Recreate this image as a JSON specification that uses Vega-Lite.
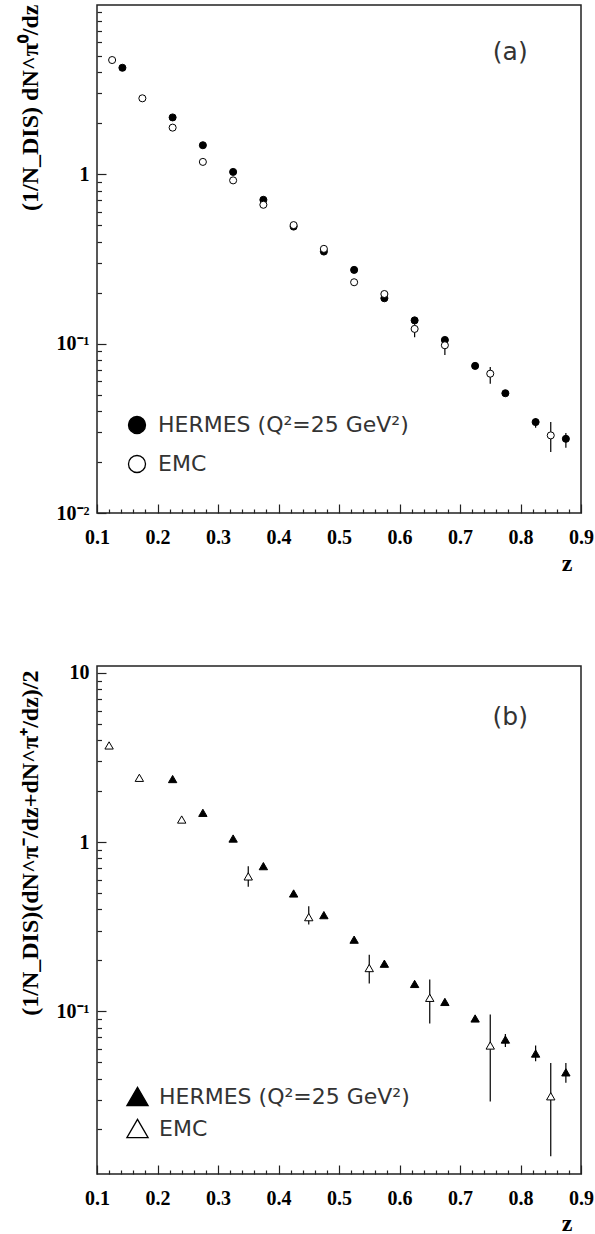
{
  "$schema": "https://vega.github.io/schema/vega-lite/v6.json",
  "background": "white",
  "padding": {"left": 17, "top": 3, "right": 5, "bottom": 5},
  "spacing": 153,
  "bounds": "flush",
  "config": {
    "view": {"stroke": "#222", "strokeWidth": 1.5},
    "axis": {
      "grid": false, "domain": false, "labelFlush": false, "labelOverlap": false,
      "labelFont": "Liberation Serif", "labelFontWeight": "bold", "labelFontSize": 20, "labelColor": "black",
      "titleFont": "Liberation Serif", "titleFontWeight": "bold", "titleColor": "black",
      "tickColor": "#222", "tickWidth": 1.2
    }
  },
  "datasets": {
    "a": [
      {"z": 0.142, "v": 4.24, "series": "HERMES (Q²=25 GeV²)"},
      {"z": 0.225, "v": 2.16, "series": "HERMES (Q²=25 GeV²)"},
      {"z": 0.275, "v": 1.48, "series": "HERMES (Q²=25 GeV²)"},
      {"z": 0.325, "v": 1.03, "series": "HERMES (Q²=25 GeV²)"},
      {"z": 0.375, "v": 0.705, "series": "HERMES (Q²=25 GeV²)"},
      {"z": 0.425, "v": 0.49, "series": "HERMES (Q²=25 GeV²)"},
      {"z": 0.475, "v": 0.349, "series": "HERMES (Q²=25 GeV²)"},
      {"z": 0.525, "v": 0.272, "series": "HERMES (Q²=25 GeV²)"},
      {"z": 0.575, "v": 0.185, "series": "HERMES (Q²=25 GeV²)"},
      {"z": 0.625, "v": 0.137, "series": "HERMES (Q²=25 GeV²)"},
      {"z": 0.675, "v": 0.105, "series": "HERMES (Q²=25 GeV²)"},
      {"z": 0.725, "v": 0.0738, "series": "HERMES (Q²=25 GeV²)"},
      {"z": 0.775, "v": 0.0509, "series": "HERMES (Q²=25 GeV²)"},
      {"z": 0.825, "v": 0.0344, "lo": 0.0318, "hi": 0.0362, "series": "HERMES (Q²=25 GeV²)"},
      {"z": 0.875, "v": 0.0274, "lo": 0.0243, "hi": 0.0297, "series": "HERMES (Q²=25 GeV²)"},
      {"z": 0.125, "v": 4.71, "series": "EMC"},
      {"z": 0.175, "v": 2.8, "series": "EMC"},
      {"z": 0.225, "v": 1.88, "series": "EMC"},
      {"z": 0.275, "v": 1.18, "series": "EMC"},
      {"z": 0.325, "v": 0.918, "series": "EMC"},
      {"z": 0.375, "v": 0.659, "series": "EMC"},
      {"z": 0.425, "v": 0.5, "series": "EMC"},
      {"z": 0.475, "v": 0.362, "series": "EMC"},
      {"z": 0.525, "v": 0.23, "series": "EMC"},
      {"z": 0.575, "v": 0.196, "series": "EMC"},
      {"z": 0.625, "v": 0.122, "lo": 0.109, "hi": 0.13, "series": "EMC"},
      {"z": 0.675, "v": 0.0977, "lo": 0.0857, "hi": 0.105, "series": "EMC"},
      {"z": 0.75, "v": 0.0664, "lo": 0.058, "hi": 0.0728, "series": "EMC"},
      {"z": 0.85, "v": 0.0287, "lo": 0.0229, "hi": 0.0344, "series": "EMC"}
    ],
    "b": [
      {"z": 0.225, "v": 2.36, "series": "HERMES (Q²=25 GeV²)"},
      {"z": 0.275, "v": 1.49, "series": "HERMES (Q²=25 GeV²)"},
      {"z": 0.325, "v": 1.05, "series": "HERMES (Q²=25 GeV²)"},
      {"z": 0.375, "v": 0.721, "series": "HERMES (Q²=25 GeV²)"},
      {"z": 0.425, "v": 0.497, "series": "HERMES (Q²=25 GeV²)"},
      {"z": 0.475, "v": 0.37, "series": "HERMES (Q²=25 GeV²)"},
      {"z": 0.525, "v": 0.265, "series": "HERMES (Q²=25 GeV²)"},
      {"z": 0.575, "v": 0.191, "series": "HERMES (Q²=25 GeV²)"},
      {"z": 0.625, "v": 0.145, "series": "HERMES (Q²=25 GeV²)"},
      {"z": 0.675, "v": 0.1135, "series": "HERMES (Q²=25 GeV²)"},
      {"z": 0.725, "v": 0.0906, "series": "HERMES (Q²=25 GeV²)"},
      {"z": 0.775, "v": 0.068, "lo": 0.0615, "hi": 0.0734, "series": "HERMES (Q²=25 GeV²)"},
      {"z": 0.825, "v": 0.0562, "lo": 0.0506, "hi": 0.0627, "series": "HERMES (Q²=25 GeV²)"},
      {"z": 0.875, "v": 0.0435, "lo": 0.0377, "hi": 0.0494, "series": "HERMES (Q²=25 GeV²)"},
      {"z": 0.12, "v": 3.73, "series": "EMC"},
      {"z": 0.17, "v": 2.4, "series": "EMC"},
      {"z": 0.24, "v": 1.36, "series": "EMC"},
      {"z": 0.35, "v": 0.627, "lo": 0.544, "hi": 0.721, "series": "EMC"},
      {"z": 0.45, "v": 0.36, "lo": 0.326, "hi": 0.418, "series": "EMC"},
      {"z": 0.55, "v": 0.18, "lo": 0.146, "hi": 0.216, "series": "EMC"},
      {"z": 0.65, "v": 0.12, "lo": 0.0846, "hi": 0.154, "series": "EMC"},
      {"z": 0.75, "v": 0.0627, "lo": 0.0293, "hi": 0.0955, "series": "EMC"},
      {"z": 0.85, "v": 0.0314, "lo": 0.0139, "hi": 0.0494, "series": "EMC"}
    ]
  },
  "vconcat": [
    {
      "width": 484,
      "height": 508,
      "resolve": {"axis": {"x": "independent", "y": "independent"}},
      "layer": [
        {
          "data": {"name": "a"},
          "transform": [{"filter": "isValid(datum.lo)"}],
          "mark": {"type": "rule", "color": "black", "strokeWidth": 1.2},
          "encoding": {
            "x": {"field": "z", "type": "quantitative", "scale": {"domain": [0.1, 0.9], "nice": false, "zero": false},
                  "axis": {"orient": "bottom", "values": [0.12,0.14,0.16,0.18,0.22,0.24,0.26,0.28,0.32,0.34,0.36,0.38,0.42,0.44,0.46,0.48,0.52,0.54,0.56,0.58,0.62,0.64,0.66,0.68,0.72,0.74,0.76,0.78,0.82,0.84,0.86,0.88], "labels": false, "tickSize": -4, "title": null}},
            "y": {"field": "lo", "type": "quantitative", "scale": {"type": "log", "domain": [0.01, 9.95], "nice": false},
                  "axis": {"orient": "left", "values": [0.02,0.03,0.04,0.05,0.06,0.07,0.08,0.09,0.2,0.3,0.4,0.5,0.6,0.7,0.8,0.9,2,3,4,5,6,7,8,9], "labels": false, "tickSize": -4.5, "title": null}},
            "y2": {"field": "hi"}
          }
        },
        {
          "data": {"name": "a"},
          "mark": {"type": "point", "shape": "circle", "filled": true, "stroke": "black", "strokeWidth": 1, "size": 50, "opacity": 1},
          "encoding": {
            "x": {"field": "z", "type": "quantitative",
                  "axis": {"orient": "bottom", "values": [0.1,0.2,0.3,0.4,0.5,0.6,0.7,0.8,0.9], "format": ".1f", "tickSize": -9, "labelPadding": 23,
                           "title": "z", "titleFontSize": 24, "titleAnchor": "end", "titleAlign": "right", "titleBaseline": "alphabetic", "titleX": 475, "titleY": 57}},
            "y": {"field": "v", "type": "quantitative",
                  "axis": {"orient": "left", "values": [0.01, 0.1, 1], "tickSize": -9, "labelPadding": 17,
                           "labelExpr": "datum.value < 0.05 ? '10⁻²' : datum.value < 0.5 ? '10⁻¹' : datum.value < 5 ? '1' : '10'",
                           "title": "(1/N_DIS) dN^π⁰/dz", "titleFontSize": 24, "titleAnchor": "end", "titleAlign": "right", "titleBaseline": "alphabetic", "titleAngle": -90, "titleX": -60, "titleY": -1}},
            "fill": {"field": "series", "type": "nominal",
                     "scale": {"domain": ["HERMES (Q²=25 GeV²)", "EMC"], "range": ["black", "white"]},
                     "legend": {"orient": "none", "legendX": 29, "legendY": 409, "title": null, "symbolType": "circle", "symbolSize": 290,
                                "symbolStrokeColor": "black", "symbolStrokeWidth": 1.3, "labelFont": "DejaVu Sans", "labelFontSize": 22,
                                "labelColor": "#333", "labelLimit": 0, "rowPadding": 15, "labelOffset": 10, "padding": 0}}
          }
        },
        {
          "data": {"values": [{"z": 0.783, "v": 5.25, "t": "(a)"}]},
          "mark": {"type": "text", "font": "DejaVu Sans", "fontSize": 25, "color": "#333", "align": "center", "baseline": "middle"},
          "encoding": {
            "x": {"field": "z", "type": "quantitative", "axis": null},
            "y": {"field": "v", "type": "quantitative", "axis": null},
            "text": {"field": "t"}
          }
        }
      ]
    },
    {
      "width": 484,
      "height": 508,
      "resolve": {"axis": {"x": "independent", "y": "independent"}},
      "layer": [
        {
          "data": {"name": "b"},
          "transform": [{"filter": "isValid(datum.lo)"}],
          "mark": {"type": "rule", "color": "black", "strokeWidth": 1.2},
          "encoding": {
            "x": {"field": "z", "type": "quantitative", "scale": {"domain": [0.1, 0.9], "nice": false, "zero": false},
                  "axis": {"orient": "bottom", "values": [0.12,0.14,0.16,0.18,0.22,0.24,0.26,0.28,0.32,0.34,0.36,0.38,0.42,0.44,0.46,0.48,0.52,0.54,0.56,0.58,0.62,0.64,0.66,0.68,0.72,0.74,0.76,0.78,0.82,0.84,0.86,0.88], "labels": false, "tickSize": -4, "title": null}},
            "y": {"field": "lo", "type": "quantitative", "scale": {"type": "log", "domain": [0.0109, 11], "nice": false},
                  "axis": {"orient": "left", "values": [0.02,0.03,0.04,0.05,0.06,0.07,0.08,0.09,0.2,0.3,0.4,0.5,0.6,0.7,0.8,0.9,2,3,4,5,6,7,8,9], "labels": false, "tickSize": -4.5, "title": null}},
            "y2": {"field": "hi"}
          }
        },
        {
          "data": {"name": "b"},
          "mark": {"type": "point", "shape": "triangle-up", "filled": true, "stroke": "black", "strokeWidth": 1, "size": 70, "opacity": 1},
          "encoding": {
            "x": {"field": "z", "type": "quantitative",
                  "axis": {"orient": "bottom", "values": [0.1,0.2,0.3,0.4,0.5,0.6,0.7,0.8,0.9], "format": ".1f", "tickSize": -9, "labelPadding": 23,
                           "title": "z", "titleFontSize": 24, "titleAnchor": "end", "titleAlign": "right", "titleBaseline": "alphabetic", "titleX": 475, "titleY": 56}},
            "y": {"field": "v", "type": "quantitative",
                  "axis": {"orient": "left", "values": [0.1, 1, 10], "tickSize": -9, "labelPadding": 17,
                           "labelExpr": "datum.value < 0.05 ? '10⁻²' : datum.value < 0.5 ? '10⁻¹' : datum.value < 5 ? '1' : '10'",
                           "title": "(1/N_DIS)(dN^π⁻/dz+dN^π⁺/dz)/2", "titleFontSize": 24, "titleAnchor": "end", "titleAlign": "right", "titleBaseline": "alphabetic", "titleAngle": -90, "titleX": -60, "titleY": 4}},
            "fill": {"field": "series", "type": "nominal",
                     "scale": {"domain": ["HERMES (Q²=25 GeV²)", "EMC"], "range": ["black", "white"]},
                     "legend": {"orient": "none", "legendX": 29, "legendY": 419, "title": null, "symbolType": "triangle-up", "symbolSize": 450,
                                "symbolStrokeColor": "black", "symbolStrokeWidth": 1.3, "labelFont": "DejaVu Sans", "labelFontSize": 22,
                                "labelColor": "#333", "labelLimit": 0, "rowPadding": 7, "labelOffset": 10, "padding": 0}}
          }
        },
        {
          "data": {"values": [{"z": 0.783, "v": 5.46, "t": "(b)"}]},
          "mark": {"type": "text", "font": "DejaVu Sans", "fontSize": 25, "color": "#333", "align": "center", "baseline": "middle"},
          "encoding": {
            "x": {"field": "z", "type": "quantitative", "axis": null},
            "y": {"field": "v", "type": "quantitative", "axis": null},
            "text": {"field": "t"}
          }
        }
      ]
    }
  ],
  "resolve": {"scale": {"x": "independent", "y": "independent", "fill": "independent"}, "legend": {"fill": "independent"}}
}
